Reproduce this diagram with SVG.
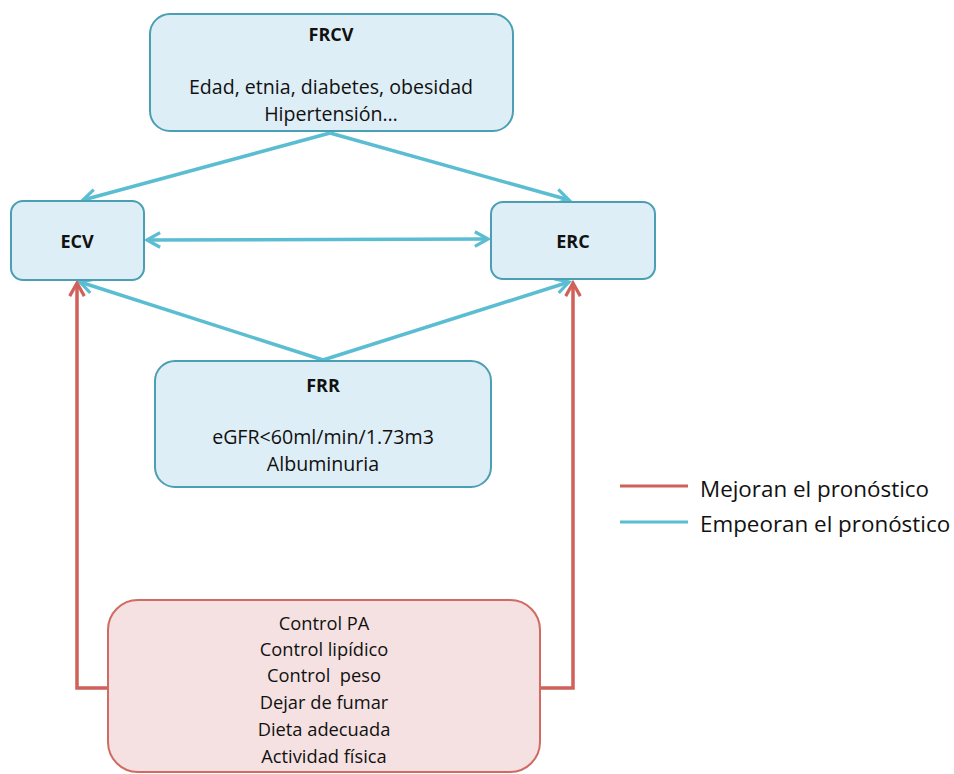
<svg xmlns="http://www.w3.org/2000/svg" width="954" height="774" viewBox="0 0 954 774">
<style>
.bx{fill:#deeef6;stroke:#4b9fb3;stroke-width:2}
.pk{fill:#f5e1e1;stroke:#d06a63;stroke-width:2}
.t{font-family:"Open Sans","Liberation Sans",sans-serif;font-size:19.6px;fill:#111;text-anchor:middle}
.p{font-size:18.3px}
.b{font-weight:bold;font-size:18px}
.bl{fill:none;stroke:#5bbdd2;stroke-width:3.5}
.rd{fill:none;stroke:#cf615a;stroke-width:3.5}
.lg{font-family:"Open Sans","Liberation Sans",sans-serif;font-size:22.4px;fill:#111}
</style>
<defs>
<marker id="ab" viewBox="0 0 12 12" refX="10" refY="6" markerWidth="5" markerHeight="5" orient="auto-start-reverse" markerUnits="strokeWidth">
<path d="M1,1 L10,6 L1,11" fill="none" stroke="#5bbdd2" stroke-width="2.2"/>
</marker>
<marker id="ar" viewBox="0 0 12 12" refX="10" refY="6" markerWidth="5" markerHeight="5" orient="auto" markerUnits="strokeWidth">
<path d="M1,1 L10,6 L1,11" fill="none" stroke="#cf615a" stroke-width="2.2"/>
</marker>
</defs>
<g id="connectors">
<path class="bl" d="M330,133 L83,200" marker-end="url(#ab)"/>
<path class="bl" d="M330,133 L569,200" marker-end="url(#ab)"/>
<path class="bl" d="M147,240 L488,239" marker-start="url(#ab)" marker-end="url(#ab)"/>
<path class="bl" d="M323,360 L80,282" marker-end="url(#ab)"/>
<path class="bl" d="M323,360 L569,282" marker-end="url(#ab)"/>
<path class="rd" d="M108,688 L77,688 L77,283" marker-end="url(#ar)"/>
<path class="rd" d="M540,688 L573,688 L573,283" marker-end="url(#ar)"/>
</g>
<g id="FRCV">
<rect class="bx" x="150" y="14" width="363" height="117" rx="20"/>
<text class="t b" x="331" y="41">FRCV</text>
<text class="t" x="331" y="94">Edad, etnia, diabetes, obesidad</text>
<text class="t" x="331" y="121">Hipertensión…</text>
</g>
<g id="ECV">
<rect class="bx" x="11" y="201" width="133" height="79" rx="12"/>
<text class="t b" x="77" y="248">ECV</text>
</g>
<g id="ERC">
<rect class="bx" x="491" y="202" width="164" height="77" rx="12"/>
<text class="t b" x="573" y="248">ERC</text>
</g>
<g id="FRR">
<rect class="bx" x="155" y="361" width="336" height="126" rx="20"/>
<text class="t b" x="323" y="392">FRR</text>
<text class="t" x="323" y="444">eGFR&lt;60ml/min/1.73m3</text>
<text class="t" x="323" y="471">Albuminuria</text>
</g>
<g id="medidas">
<rect class="pk" x="108" y="600" width="432" height="172" rx="30"/>
<text class="t p" x="324" y="630">Control PA</text>
<text class="t p" x="324" y="656">Control lipídico</text>
<text class="t p" x="324" y="682" xml:space="preserve">Control  peso</text>
<text class="t p" x="324" y="709">Dejar de fumar</text>
<text class="t p" x="324" y="736">Dieta adecuada</text>
<text class="t p" x="324" y="763">Actividad física</text>
</g>
<g id="legend">
<line x1="620" y1="486" x2="688" y2="486" stroke="#cf615a" stroke-width="3"/>
<line x1="620" y1="522" x2="688" y2="522" stroke="#5bbdd2" stroke-width="3"/>
<text class="lg" x="700" y="497">Mejoran el pronóstico</text>
<text class="lg" x="700" y="532">Empeoran el pronóstico</text>
</g>
</svg>
